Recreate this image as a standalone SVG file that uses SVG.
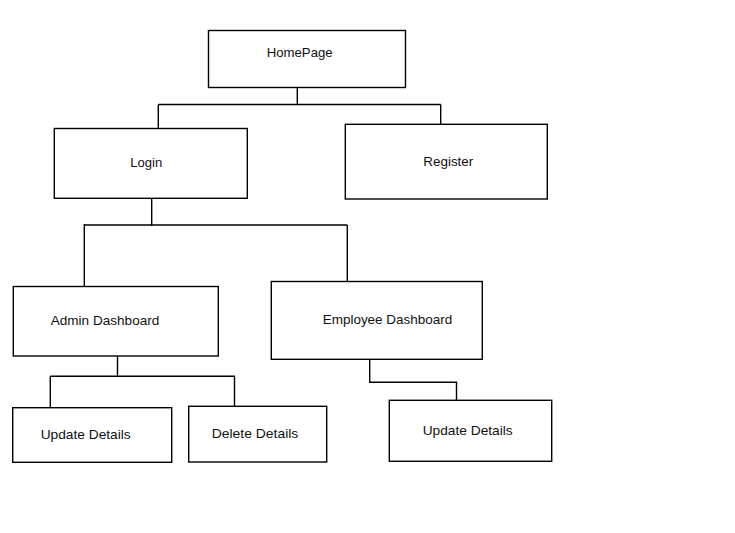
<svg xmlns="http://www.w3.org/2000/svg" width="735" height="533" viewBox="0 0 735 533">
<style>
.box{fill:#fff;stroke:#000;stroke-width:1.4}
.lbl{font-family:"Liberation Sans",Arial,sans-serif;font-size:13.5px;fill:#111}
.conn{fill:none;stroke:#000;stroke-width:1.4}
</style>
<rect width="735" height="533" fill="#fff"/>
<g id="connectors">
<path class="conn" d="M297.3,87 V104.5 M158.3,104.5 H440.7 M158.3,104.5 V128.5 M440.7,104.5 V124.3"/>
<path class="conn" d="M151.7,198.3 V226 M84.3,225 H347.3 M84.3,224 V288 M347.3,225 V281.5"/>
<path class="conn" d="M117.5,356 V376.3 M50.3,376.3 H235 M50.3,376.3 V408 M234.5,376.3 V407"/>
<path class="conn" d="M369.7,359.3 V382.3 H456.5 V400.5"/>
</g>
<g id="homepage"><rect class="box" x="208.5" y="30.5" width="197" height="57"/><text class="lbl" x="266.7" y="57.3" textLength="66" lengthAdjust="spacingAndGlyphs">HomePage</text></g>
<g id="login"><rect class="box" x="54.3" y="128.5" width="193" height="69.8"/><text class="lbl" x="130.3" y="167.3" textLength="32" lengthAdjust="spacingAndGlyphs">Login</text></g>
<g id="register"><rect class="box" x="345.3" y="124.3" width="202" height="74.7"/><text class="lbl" x="423.3" y="166" textLength="50" lengthAdjust="spacingAndGlyphs">Register</text></g>
<g id="admin-dashboard"><rect class="box" x="13.3" y="286.5" width="205" height="69.5"/><text class="lbl" x="50.7" y="325" textLength="108.6" lengthAdjust="spacingAndGlyphs">Admin Dashboard</text></g>
<g id="employee-dashboard"><rect class="box" x="271.3" y="281.5" width="211" height="77.8"/><text class="lbl" x="322.7" y="324" textLength="129.6" lengthAdjust="spacingAndGlyphs">Employee Dashboard</text></g>
<g id="admin-update-details"><rect class="box" x="12.7" y="407.7" width="159" height="54.6"/><text class="lbl" x="40.7" y="439" textLength="90" lengthAdjust="spacingAndGlyphs">Update Details</text></g>
<g id="admin-delete-details"><rect class="box" x="188.7" y="406.3" width="138" height="55.7"/><text class="lbl" x="211.7" y="437.7" textLength="86.6" lengthAdjust="spacingAndGlyphs">Delete Details</text></g>
<g id="employee-update-details"><rect class="box" x="389.3" y="400.3" width="162.4" height="61"/><text class="lbl" x="422.7" y="435" textLength="90" lengthAdjust="spacingAndGlyphs">Update Details</text></g>
</svg>
